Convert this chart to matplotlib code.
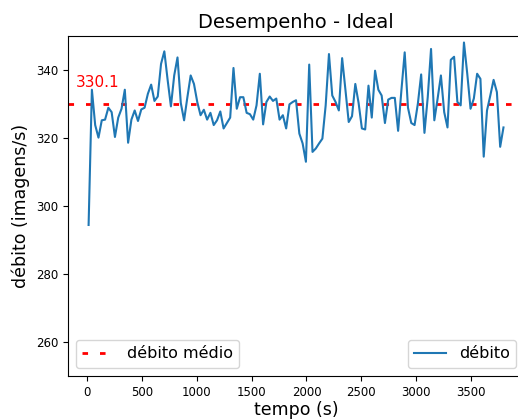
import numpy as np
import matplotlib
matplotlib.use("Agg")
import matplotlib.pyplot as plt

# throughput samples (imagens/s), one every 30 s
tempo = np.arange(15, 3800, 30)
debito = [
    294.4, 334.2, 323.8, 320.1, 325.2, 325.4, 328.9, 327.6, 320.3, 326.0,
    328.6, 334.2, 318.6, 325.4, 328.1, 325.0, 328.4, 328.9, 333.0, 335.7,
    330.9, 332.2, 341.8, 345.5, 337.1, 329.3, 338.4, 343.7, 330.3, 325.2,
    332.0, 338.4, 335.9, 330.6, 326.7, 328.3, 325.4, 327.4, 323.8, 325.2,
    327.8,
    322.8, 324.4, 326.0, 340.6, 328.6, 332.0, 332.0, 327.4, 327.0, 325.4,
    329.6, 338.9, 324.0, 330.6, 332.2, 330.9, 331.6, 325.4, 326.7, 322.8,
    329.9, 330.6, 331.1, 321.3, 318.4, 313.0, 341.6, 315.9, 316.9, 318.4,
    319.8, 329.6, 344.7, 332.5, 330.6, 328.1, 343.5, 334.2, 324.7, 326.4,
    335.9, 330.3,
    322.8, 322.5, 335.4, 326.0, 339.8, 334.2, 332.5, 324.4, 331.3, 331.8,
    331.8, 322.1, 334.0, 345.2, 328.9, 324.4, 323.8, 330.1, 338.7, 321.5,
    332.0, 346.2, 325.2, 331.6, 338.4, 327.6, 323.1, 343.0, 343.9, 330.6,
    329.6, 348.1, 338.9, 328.6, 331.6, 338.9, 337.4, 314.5, 328.1, 332.5,
    337.1, 333.5, 317.4, 323.1,
]
tempo = tempo[:len(debito)]
debito_medio = 330.1

fig = plt.figure(figsize=(5.18, 4.19), dpi=100)
ax = fig.add_axes([0.131, 0.103, 0.881, 0.811])

linha_media = ax.axhline(debito_medio, color='red', lw=2, linestyle=(0, (2, 4.3)),
                         label='débito médio')
linha, = ax.plot(tempo, debito, color='#1f77b4', lw=1.5, label='débito')
ax.text(-100, debito_medio + 5, f'{debito_medio:.1f}', color='red', fontsize=11)

ax.set_ylim(250, 350)
ax.set_title('Desempenho - Ideal', fontsize=14)
ax.set_xlabel('tempo (s)', fontsize=12.5, labelpad=2)
ax.set_ylabel('débito (imagens/s)', fontsize=12.5)
ax.tick_params(labelsize=8.5)

leg1 = ax.legend(handles=[linha_media], loc='lower left', fontsize=11.5)
ax.add_artist(leg1)
ax.legend(handles=[linha], loc='lower right', fontsize=11.5)

fig.savefig('out.png', dpi=100)
